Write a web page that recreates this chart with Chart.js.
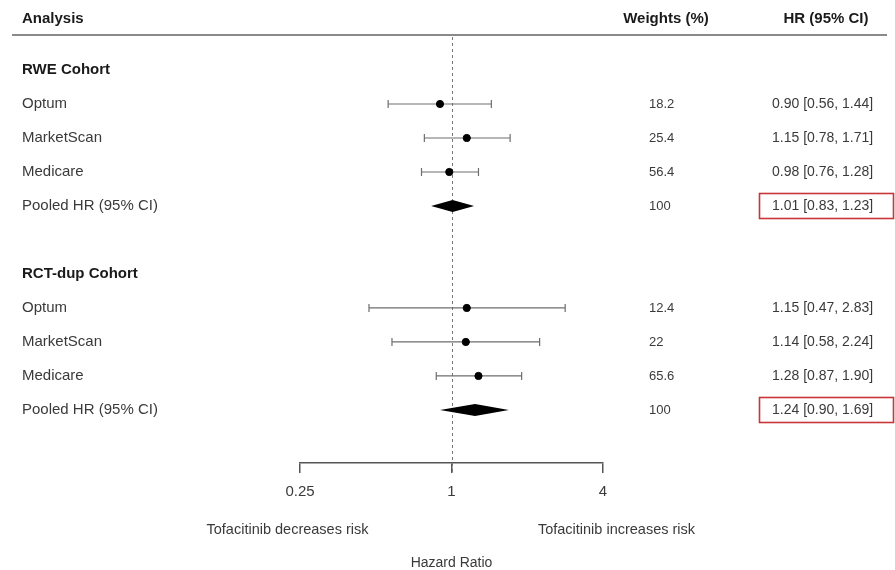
<!DOCTYPE html>
<html>
<head>
<meta charset="utf-8">
<script src="https://cdn.jsdelivr.net/npm/chart.js@4/dist/chart.umd.min.js"></script>
<style>
  html, body { margin: 0; padding: 0; background: #ffffff; }
  #wrap { width: 895px; height: 570px; position: relative; }
</style>
</head>
<body>
<div id="wrap"><canvas id="c" width="895" height="570"></canvas></div>
<script>
// ---- data ----
const rowLabels = ['RWE Cohort', 'Optum', 'MarketScan', 'Medicare', 'Pooled HR (95% CI)', '',
                   'RCT-dup Cohort', 'Optum', 'MarketScan', 'Medicare', 'Pooled HR (95% CI)'];
const rowTypes  = ['header', 'study', 'study', 'study', 'pooled', 'blank',
                   'header', 'study', 'study', 'study', 'pooled'];
const hrValues  = [null, 0.90, 1.15, 0.98, 1.01, null, null, 1.15, 1.14, 1.28, 1.24];
const ciLower   = [null, 0.56, 0.78, 0.76, 0.83, null, null, 0.47, 0.58, 0.87, 0.90];
const ciUpper   = [null, 1.44, 1.71, 1.28, 1.23, null, null, 2.83, 2.24, 1.90, 1.69];
const weights   = ['', '18.2', '25.4', '56.4', '100', '', '', '12.4', '22', '65.6', '100'];
const xTicks    = [0.25, 1, 4];
const xTickLabels = ['0.25', '1', '4'];
const columnHeaders = ['Analysis', 'Weights (%)', 'HR (95% CI)'];
const sideLabels = ['Tofacitinib decreases risk', 'Tofacitinib increases risk'];
const axisTitle = 'Hazard Ratio';

const FONT = "'Liberation Sans', Arial, Helvetica, sans-serif";
const fmt = v => v.toFixed(2);

// row index 1..n  (value used on the y scale)
const studyPoints = [];
rowTypes.forEach((t, i) => { if (t === 'study') studyPoints.push({ x: hrValues[i], y: i + 1 }); });

const forestPlugin = {
  id: 'forest',
  beforeDatasetsDraw(chart) {
    const { ctx } = chart;
    const xS = chart.scales.x, yS = chart.scales.y;
    ctx.save();
    // header rule
    ctx.strokeStyle = '#8a8a8a';
    ctx.lineWidth = 2;
    ctx.beginPath(); ctx.moveTo(12, 35); ctx.lineTo(887, 35); ctx.stroke();
    // reference (null) line
    const x1 = Math.round(xS.getPixelForValue(1)) + 0.5;
    ctx.strokeStyle = '#777777';
    ctx.lineWidth = 1;
    ctx.setLineDash([3, 3]);
    ctx.beginPath(); ctx.moveTo(x1, 37); ctx.lineTo(x1, chart.chartArea.bottom + 10); ctx.stroke();
    ctx.setLineDash([]);
    // CIs and diamonds
    rowTypes.forEach((t, i) => {
      const y = yS.getPixelForValue(i + 1);
      if (t === 'study') {
        const xl = xS.getPixelForValue(ciLower[i]);
        const xu = xS.getPixelForValue(ciUpper[i]);
        ctx.strokeStyle = '#6e6e6e';
        ctx.lineWidth = 1.2;
        ctx.beginPath();
        ctx.moveTo(xl, y); ctx.lineTo(xu, y);
        ctx.moveTo(xl, y - 4); ctx.lineTo(xl, y + 4);
        ctx.moveTo(xu, y - 4); ctx.lineTo(xu, y + 4);
        ctx.stroke();
      } else if (t === 'pooled') {
        const xl = xS.getPixelForValue(ciLower[i]);
        const xu = xS.getPixelForValue(ciUpper[i]);
        const xm = xS.getPixelForValue(hrValues[i]);
        ctx.fillStyle = '#000000';
        ctx.beginPath();
        ctx.moveTo(xl, y); ctx.lineTo(xm, y - 6); ctx.lineTo(xu, y); ctx.lineTo(xm, y + 6);
        ctx.closePath(); ctx.fill();
      }
    });
    ctx.restore();
  },
  afterDraw(chart) {
    const { ctx } = chart;
    const xS = chart.scales.x, yS = chart.scales.y;
    ctx.save();
    ctx.textBaseline = 'middle';
    // column headers
    const hy = yS.getPixelForValue(-0.5);
    ctx.fillStyle = '#1a1a1a';
    ctx.font = 'bold 15px ' + FONT;
    ctx.textAlign = 'left';  ctx.fillText(columnHeaders[0], 22, hy);
    ctx.textAlign = 'center'; ctx.fillText(columnHeaders[1], 666, hy);
    ctx.fillText(columnHeaders[2], 826, hy);
    // rows
    rowTypes.forEach((t, i) => {
      const y = yS.getPixelForValue(i + 1);
      if (t === 'blank') return;
      ctx.textAlign = 'left';
      if (t === 'header') {
        ctx.font = 'bold 15px ' + FONT;
        ctx.fillStyle = '#1a1a1a';
        ctx.fillText(rowLabels[i], 22, y);
        return;
      }
      ctx.font = '15px ' + FONT;
      ctx.fillStyle = '#3a3a3a';
      ctx.fillText(rowLabels[i], 22, y);
      ctx.font = '13px ' + FONT;
      ctx.fillText(weights[i], 649, y);
      const txt = fmt(hrValues[i]) + ' [' + fmt(ciLower[i]) + ', ' + fmt(ciUpper[i]) + ']';
      ctx.font = '14px ' + FONT;
      ctx.fillText(txt, 772, y);
      if (t === 'pooled') {
        ctx.strokeStyle = '#c8363a';
        ctx.lineWidth = 1.6;
        ctx.strokeRect(759.5, Math.round(y) - 12.5, 134, 25);
      }
    });
    // side labels under the axis
    const xc = xS.getPixelForValue(1);
    ctx.font = '14.5px ' + FONT;
    ctx.fillStyle = '#3a3a3a';
    ctx.textAlign = 'center';
    ctx.fillText(sideLabels[0], xc - 164, 530);
    ctx.fillText(sideLabels[1], xc + 165, 530);
    ctx.restore();
  }
};

new Chart(document.getElementById('c'), {
  type: 'scatter',
  data: {
    datasets: [{
      data: studyPoints,
      backgroundColor: '#000000',
      borderColor: '#000000',
      pointRadius: 3.6,
      pointHoverRadius: 3.6
    }]
  },
  options: {
    responsive: false,
    animation: false,
    devicePixelRatio: 1,
    layout: { padding: { left: 300, right: 292, top: 36, bottom: 0 } },
    plugins: { legend: { display: false }, tooltip: { enabled: false } },
    scales: {
      x: {
        type: 'logarithmic',
        min: 0.25,
        max: 4,
        position: 'bottom',
        afterBuildTicks: s => { s.ticks = xTicks.map(v => ({ value: v })); },
        afterFit: s => { s.height = 107; },
        ticks: {
          autoSkip: false,
          maxRotation: 0,
          padding: 10,
          color: '#3a3a3a',
          font: { family: FONT, size: 15 },
          callback: (v) => { const k = xTicks.indexOf(v); return k >= 0 ? xTickLabels[k] : ''; }
        },
        grid: { display: true, drawOnChartArea: false, drawTicks: true, tickLength: 10, color: '#555555', lineWidth: 1.5 },
        border: { display: true, color: '#555555', width: 1.5 },
        title: { display: true, text: axisTitle, color: '#3a3a3a', font: { family: FONT, size: 14, lineHeight: 1 }, padding: { top: 0, bottom: 0 } }
      },
      y: {
        type: 'linear',
        display: false,
        reverse: true,
        min: 0,
        max: 12.56
      }
    }
  },
  plugins: [forestPlugin]
});
</script>
</body>
</html>
